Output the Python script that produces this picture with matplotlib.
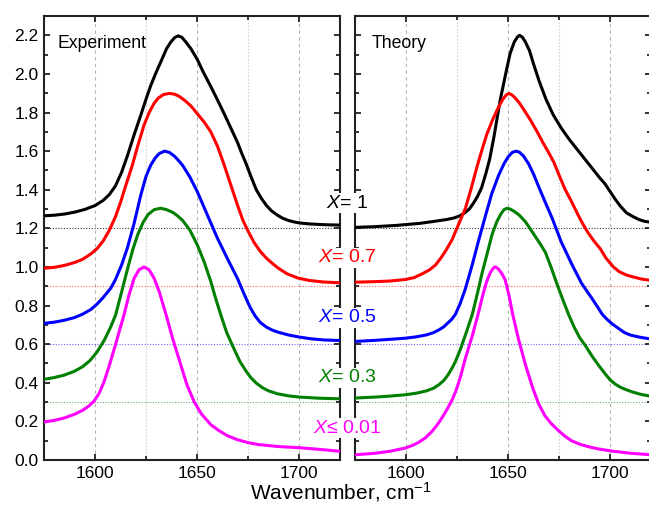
import matplotlib
matplotlib.use("Agg")
import matplotlib.pyplot as plt
from matplotlib.ticker import MultipleLocator

plt.rcParams['font.family'] = ['Liberation Sans', 'DejaVu Sans']
plt.rcParams['mathtext.fontset'] = 'custom'
plt.rcParams['mathtext.it'] = 'Liberation Sans:italic'
plt.rcParams['mathtext.rm'] = 'Liberation Sans'

# ---- Experiment ----
exp_x1 = [1575, 1580, 1585, 1590, 1595, 1600, 1604, 1607, 1610, 1613, 1616, 1619, 1622.4, 1625, 1627.3,
          1630, 1632.2, 1635, 1637.1, 1639, 1640.7, 1642.5, 1644.5, 1647, 1650.1, 1653, 1656.7, 1660,
          1663.2, 1666.5, 1669.8, 1672, 1674, 1676.5, 1679, 1681.5, 1684, 1686.5, 1689.4, 1692, 1695,
          1698, 1701, 1705, 1710, 1715, 1720]
exp_y1 = [1.265, 1.268, 1.274, 1.284, 1.298, 1.318, 1.345, 1.375, 1.42, 1.49, 1.58, 1.68, 1.786, 1.87, 1.94,
          2.01, 2.062, 2.13, 2.165, 2.188, 2.197, 2.19, 2.165, 2.13, 2.075, 2.01, 1.935, 1.865,
          1.795, 1.72, 1.645, 1.585, 1.535, 1.465, 1.40, 1.355, 1.318, 1.29, 1.268, 1.252, 1.24,
          1.232, 1.227, 1.223, 1.22, 1.218, 1.217]

exp_x2 = [1575, 1580, 1585, 1590, 1594, 1598, 1601, 1604, 1607, 1610, 1612.5, 1615, 1618.3, 1621, 1624,
          1626.5, 1628.9, 1631, 1633.5, 1636.3, 1639, 1641.5, 1644, 1646.9, 1650, 1653.5, 1656.7, 1660,
          1663.2, 1666.5, 1669.8, 1672.5, 1675, 1678, 1681, 1684, 1687, 1690, 1694, 1699.2, 1705,
          1712, 1720]
exp_y2 = [0.993, 0.998, 1.008, 1.023, 1.04, 1.068, 1.095, 1.135, 1.19, 1.26, 1.335, 1.42, 1.528, 1.63, 1.735,
          1.80, 1.847, 1.875, 1.893, 1.899, 1.895, 1.882, 1.862, 1.835, 1.795, 1.75, 1.70, 1.625,
          1.53, 1.425, 1.32, 1.24, 1.185, 1.125, 1.08, 1.045, 1.017, 0.992, 0.965, 0.943, 0.93,
          0.922, 0.918]

exp_x3 = [1575, 1580, 1585, 1590, 1594, 1598, 1601, 1604, 1607.7, 1610, 1613, 1615.8, 1619, 1622.4, 1625,
          1627.3, 1629.5, 1631.5, 1634.1, 1636.5, 1639, 1641, 1643, 1646.5, 1650.1, 1655, 1660, 1665,
          1669.8, 1673, 1676, 1678.5, 1681, 1684, 1687, 1690, 1695, 1700, 1705.7, 1712, 1720]
exp_y3 = [0.708, 0.714, 0.724, 0.738, 0.756, 0.78, 0.808, 0.842, 0.89, 0.935, 1.01, 1.097, 1.22, 1.372, 1.47,
          1.528, 1.565, 1.588, 1.60, 1.593, 1.573, 1.55, 1.525, 1.465, 1.39, 1.27, 1.148, 1.04,
          0.94, 0.86, 0.79, 0.745, 0.712, 0.688, 0.672, 0.661, 0.647, 0.637, 0.628, 0.622, 0.619]

exp_x4 = [1575, 1580, 1585, 1590, 1594, 1597.5, 1601, 1604.5, 1607.7, 1610.1, 1613, 1615.8, 1618.5, 1621,
          1623.5, 1626, 1629, 1632.2, 1635, 1638, 1640.4, 1643, 1646.5, 1650.1, 1653.5, 1656.7, 1659,
          1661.6, 1664.5, 1668.1, 1671, 1674, 1676.3, 1679, 1682, 1685, 1689.4, 1695, 1700, 1710, 1720]
exp_y4 = [0.418, 0.427, 0.44, 0.46, 0.484, 0.515, 0.56, 0.62, 0.69, 0.752, 0.87, 0.985, 1.09, 1.17,
          1.23, 1.272, 1.297, 1.304, 1.297, 1.283, 1.265, 1.24, 1.19, 1.114, 1.025, 0.925, 0.84,
          0.752, 0.66, 0.575, 0.51, 0.46, 0.427, 0.398, 0.375, 0.358, 0.343, 0.332, 0.326, 0.32, 0.317]

exp_x5 = [1575, 1580, 1585, 1590, 1594, 1597, 1599.5, 1602, 1604.4, 1607, 1610.1, 1612.5, 1614.2, 1616.5,
          1619.1, 1621.5, 1624, 1626.5, 1629, 1631.5, 1634.6, 1638, 1642, 1645, 1648.5, 1652, 1656.7,
          1661, 1665, 1669.8, 1675, 1680, 1689.4, 1700.8, 1710, 1720]
exp_y5 = [0.197, 0.205, 0.218, 0.237, 0.258, 0.28, 0.305, 0.345, 0.405, 0.49, 0.6, 0.69, 0.752, 0.85,
          0.94, 0.985, 1.0, 0.985, 0.94, 0.87, 0.76, 0.63, 0.493, 0.39, 0.303, 0.24, 0.183,
          0.15, 0.125, 0.105, 0.09, 0.08, 0.07, 0.063, 0.055, 0.045]

# ---- Theory ----
th_x1 = [1575, 1585, 1595, 1606.9, 1615, 1620, 1623.2, 1626, 1628.5, 1631, 1633, 1635, 1637, 1639, 1641,
         1643, 1646.1, 1649, 1651, 1653, 1654.5, 1655.6, 1657, 1658.5, 1660.5, 1662.5, 1665.3, 1668.5,
         1672, 1676, 1680, 1684.5, 1689, 1692, 1695, 1697.5, 1700, 1702.5, 1705, 1708, 1711, 1714,
         1717, 1720]
th_y1 = [1.205, 1.209, 1.215, 1.226, 1.238, 1.246, 1.253, 1.263, 1.278, 1.30, 1.33, 1.365, 1.41, 1.48, 1.56,
         1.67, 1.863, 2.01, 2.106, 2.165, 2.19, 2.2, 2.19, 2.165, 2.12, 2.05, 1.96, 1.87,
         1.79, 1.72, 1.66, 1.60, 1.54, 1.50, 1.46, 1.43, 1.39, 1.35, 1.315, 1.28, 1.262, 1.246,
         1.236, 1.232]

th_x2 = [1575, 1585, 1592, 1599.7, 1604, 1608, 1611.5, 1614.4, 1617, 1619.5, 1622.5, 1625.5, 1629.1, 1632,
         1634.8, 1637, 1639.5, 1642.5, 1645.4, 1647.5, 1649.3, 1650.5, 1652, 1653.5, 1655.5, 1658, 1661,
         1664, 1667, 1670, 1672.5, 1675, 1678, 1681, 1684, 1686.5, 1689, 1692, 1695.1, 1698, 1701.6,
         1704.5, 1708, 1711.4, 1715, 1720]
th_y2 = [0.921, 0.924, 0.927, 0.935, 0.945, 0.965, 0.985, 1.01, 1.045, 1.085, 1.14, 1.215, 1.304, 1.41,
         1.52, 1.60, 1.685, 1.765, 1.83, 1.87, 1.893, 1.899, 1.89, 1.875, 1.85, 1.81, 1.76,
         1.705, 1.645, 1.59, 1.54, 1.475, 1.40, 1.34, 1.275, 1.225, 1.18, 1.135, 1.095, 1.045, 1.0,
         0.975, 0.958, 0.948, 0.938, 0.93]

th_x3 = [1575, 1585, 1592, 1599.7, 1605, 1610, 1613.5, 1616.1, 1618.5, 1620.5, 1622.5, 1624.2, 1626.5, 1629,
         1632.4, 1635.5, 1638.9, 1642, 1645.4, 1648, 1650, 1652, 1653.9, 1655.5, 1657.5, 1660, 1662.5,
         1665, 1668, 1671.6, 1676, 1681.4, 1686, 1691.2, 1694, 1696.1, 1698.5, 1701, 1704.3, 1707,
         1710, 1715, 1720]
th_y3 = [0.614, 0.62, 0.625, 0.631, 0.638, 0.648, 0.66, 0.674, 0.69, 0.71, 0.73, 0.755, 0.81, 0.885,
         1.01, 1.135, 1.265, 1.38, 1.476, 1.535, 1.57, 1.593, 1.60, 1.595, 1.575, 1.535, 1.48,
         1.415, 1.34, 1.252, 1.13, 1.01, 0.915, 0.835, 0.79, 0.755, 0.728, 0.705, 0.68, 0.66,
         0.647, 0.635, 0.627]

th_x4 = [1575, 1585, 1592, 1599.7, 1605, 1610, 1613.5, 1616.1, 1618.5, 1620.5, 1622.5, 1624.2, 1626.5, 1629.1,
         1632.4, 1635, 1637.3, 1640, 1642.2, 1644.5, 1646.5, 1648, 1649.4, 1651, 1653, 1655.5, 1658.5,
         1661, 1663.5, 1666, 1668.3, 1671, 1674, 1677, 1679.7, 1682.5, 1685, 1688, 1691, 1694.5,
         1697.8, 1700, 1702.5, 1705, 1707.6, 1711, 1715, 1720]
th_y4 = [0.321, 0.326, 0.331, 0.338, 0.346, 0.358, 0.372, 0.39, 0.412, 0.44, 0.475, 0.51, 0.57, 0.648,
         0.752, 0.865, 0.97, 1.08, 1.17, 1.235, 1.275, 1.297, 1.304, 1.30, 1.288, 1.268, 1.234,
         1.195, 1.155, 1.115, 1.075, 1.0, 0.91, 0.825, 0.752, 0.685, 0.635, 0.59, 0.54, 0.488,
         0.443, 0.415, 0.393, 0.377, 0.365, 0.352, 0.34, 0.33]

th_x5 = [1575, 1585, 1592, 1599.7, 1603, 1606, 1609.5, 1612.7, 1615.5, 1618, 1620.5, 1622.5, 1624.5, 1626.5,
         1629.1, 1632.5, 1635.3, 1637.5, 1639.5, 1641.5, 1643, 1643.8, 1645, 1646.8, 1648.5, 1650.5,
         1652.3, 1655, 1658.5, 1662, 1665, 1668, 1671, 1674.9, 1678, 1681, 1685, 1690, 1695, 1701,
         1710, 1720]
th_y5 = [0.027, 0.035, 0.045, 0.062, 0.075, 0.09, 0.115, 0.148, 0.185, 0.225, 0.27, 0.31, 0.36, 0.425,
         0.528, 0.645, 0.755, 0.85, 0.925, 0.975, 0.997, 1.0, 0.992, 0.968, 0.935, 0.85,
         0.752, 0.63, 0.493, 0.375, 0.29, 0.23, 0.19, 0.15, 0.122, 0.1, 0.082, 0.067, 0.056, 0.046,
         0.035, 0.027]

colors = ['black', '#ff0000', '#0000ff', '#007f00', '#ff00ff']
baselines = [1.2, 0.9, 0.6, 0.3]
labels = ['$X$= 1', '$X$= 0.7', '$X$= 0.5', '$X$= 0.3', '$X$\u2264 0.01']
label_y = [0.607, 0.501, 0.385, 0.269, 0.172]

exp_data = [(exp_x1, exp_y1), (exp_x2, exp_y2), (exp_x3, exp_y3), (exp_x4, exp_y4), (exp_x5, exp_y5)]
th_data = [(th_x1, th_y1), (th_x2, th_y2), (th_x3, th_y3), (th_x4, th_y4), (th_x5, th_y5)]

fig = plt.figure(figsize=(6.49, 5.17), dpi=100)
ax1 = fig.add_axes([44/649, 57/517, 296/649, 444/517])
ax2 = fig.add_axes([355/649, 57/517, 296/649, 444/517])

for ax, data, title in [(ax1, exp_data, 'Experiment'), (ax2, th_data, 'Theory')]:
    for xv in [1600, 1650, 1700]:
        ax.axvline(xv, color='#b4b4b4', lw=0.8, ls=(0, (3, 3)), zorder=0)
    for xv in [1625, 1675]:
        ax.axvline(xv, color='#d4d4d4', lw=0.8, ls=(0, (1.5, 1.5)), zorder=0)
    for b, c in zip(baselines, colors):
        ax.axhline(b, color=c, lw=0.8, ls=(0, (1, 1.5)), alpha=0.6 if c != 'black' else 0.8, zorder=1)
    for (xs, ys), c in zip(data, colors):
        ax.plot(xs, ys, color=c, lw=2.2, zorder=3, solid_joinstyle='round')
    ax.set_xlim(1575, 1720)
    ax.set_ylim(0, 2.3)
    ax.xaxis.set_major_locator(MultipleLocator(50))
    ax.xaxis.set_minor_locator(MultipleLocator(25))
    ax.yaxis.set_major_locator(MultipleLocator(0.2))
    ax.yaxis.set_minor_locator(MultipleLocator(0.1))
    ax.tick_params(which='both', direction='in', top=True, right=True, width=1.3, color='#222222')
    ax.tick_params(which='major', length=4.5, labelsize=12.5, pad=4)
    ax.tick_params(which='minor', length=2.6)
    for sp in ax.spines.values():
        sp.set_linewidth(1.5)
        sp.set_color('#222222')
    ax.text(0.045 if ax is ax1 else 0.057, 0.937, title, transform=ax.transAxes,
            fontsize=12.7, va='center', ha='left')

ax1.yaxis.set_major_formatter(plt.FuncFormatter(lambda v, p: f'{v:.1f}'))
ax2.tick_params(labelleft=False)

for lab, yy, c in zip(labels, label_y, colors):
    fig.text(347/649, yy, lab, color=c, fontsize=14, ha='center', va='center', zorder=10,
             bbox=dict(facecolor='white', edgecolor='none', pad=1.0))

fig.text(341/649, 0.048, 'Wavenumber, cm$^{-1}$', fontsize=15, ha='center', va='center')

fig.savefig('out.png', dpi=100)
